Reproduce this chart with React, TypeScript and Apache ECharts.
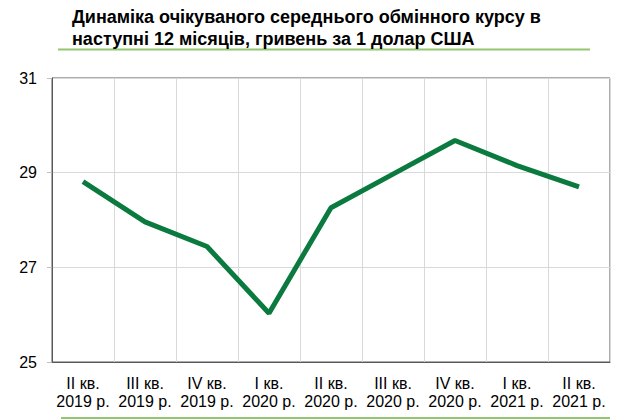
import React, { useEffect, useRef } from "react";
import * as echarts from "echarts";

const title = "Динаміка очікуваного середнього обмінного курсу в\nнаступні 12 місяців, гривень за 1 долар США";
const categories = [
  "II кв.\n2019 р.",
  "III кв.\n2019 р.",
  "IV кв.\n2019 р.",
  "I кв.\n2020 р.",
  "II кв.\n2020 р.",
  "III кв.\n2020 р.",
  "IV кв.\n2020 р.",
  "I кв.\n2021 р.",
  "II кв.\n2021 р.",
];
const values = [28.81, 27.96, 27.44, 26.03, 28.26, 28.97, 29.68, 29.15, 28.7];

export default function App() {
  const ref = useRef<HTMLDivElement>(null);
  useEffect(() => {
    if (!ref.current) return;
    const chart = echarts.init(ref.current, null, { renderer: "svg" });
    chart.setOption({
      animation: false,
      title: {
        text: title,
        left: 67,
        top: 1,
        textStyle: {
          fontFamily: "Liberation Sans, Arial, sans-serif",
          fontSize: 18,
          fontWeight: "bold",
          color: "#000",
          lineHeight: 22,
        },
      },
      graphic: [
        {
          type: "line",
          shape: { x1: 58, y1: 49.5, x2: 590, y2: 49.5 },
          style: { stroke: "#92c66f", lineWidth: 2 },
        },
        {
          type: "line",
          shape: { x1: 61, y1: 418, x2: 610, y2: 418 },
          style: { stroke: "#92c66f", lineWidth: 2 },
        },
      ],
      grid: {
        left: 52,
        right: 19,
        top: 78,
        bottom: 58,
        show: true,
        borderColor: "#595959",
        borderWidth: 1,
        backgroundColor: "transparent",
      },
      xAxis: {
        type: "category",
        data: categories,
        boundaryGap: true,
        axisLine: { show: true, lineStyle: { color: "#595959" } },
        axisTick: { show: false },
        splitLine: { show: true, lineStyle: { color: "#d9d9d9", width: 1 } },
        axisLabel: {
          color: "#000",
          fontFamily: "Liberation Sans, Arial, sans-serif",
          fontSize: 16,
          lineHeight: 18,
          margin: 12,
          interval: 0,
        },
      },
      yAxis: {
        type: "value",
        min: 25,
        max: 31,
        interval: 2,
        axisLine: { show: true, lineStyle: { color: "#595959" } },
        axisTick: { show: true, length: 5, lineStyle: { color: "#bfbfbf" } },
        splitLine: { show: true, lineStyle: { color: "#d9d9d9", width: 1 } },
        axisLabel: {
          color: "#000",
          fontFamily: "Liberation Sans, Arial, sans-serif",
          fontSize: 16,
          margin: 15,
        },
      },
      series: [
        {
          type: "line",
          data: values,
          symbol: "none",
          lineStyle: { color: "#0b7a3e", width: 5 },
        },
      ],
    });
    return () => chart.dispose();
  }, []);
  return (
    <div
      ref={ref}
      style={{ position: "absolute", left: 0, top: 0, width: 629, height: 420 }}
    />
  );
}
